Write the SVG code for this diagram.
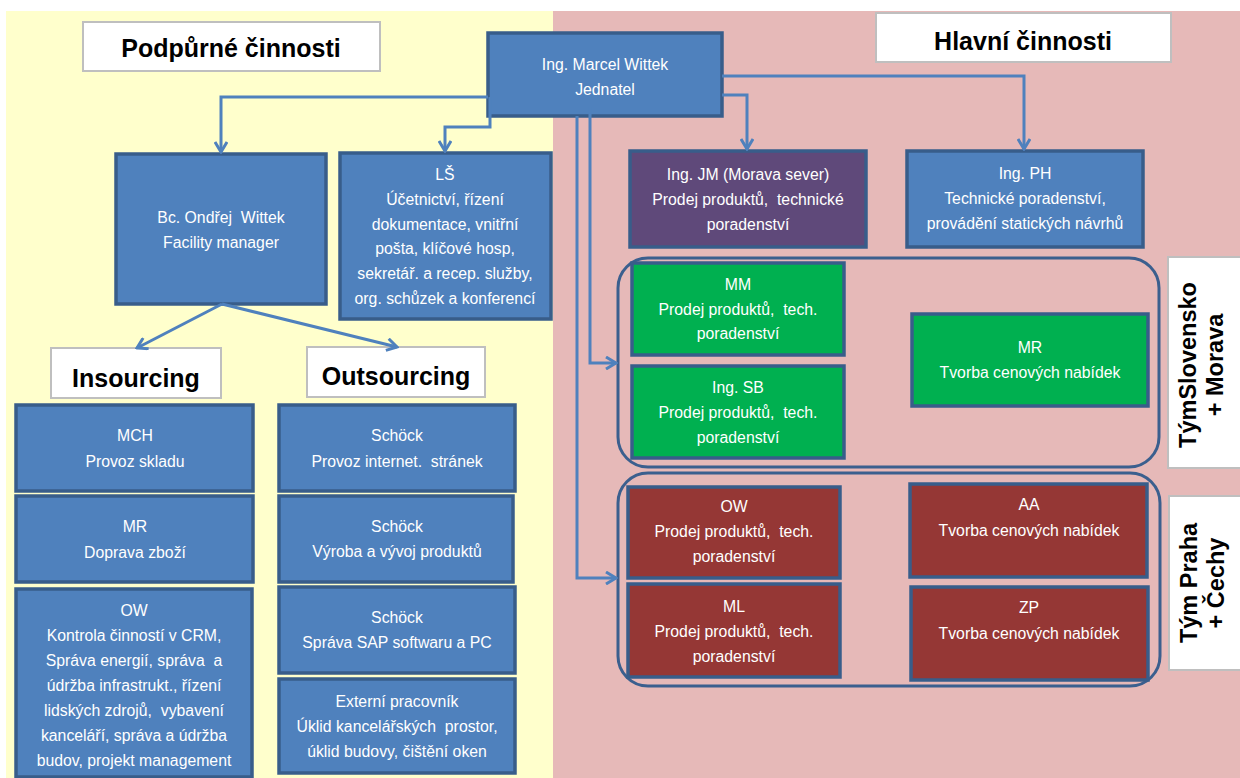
<svg xmlns="http://www.w3.org/2000/svg" width="1240" height="778" viewBox="0 0 1240 778">
<style>
.bl{fill:#4F81BD;stroke:#385D8A;stroke-width:3.5}
.pu{fill:#5F497A;stroke:#385D8A;stroke-width:3.5}
.gr{fill:#00B050;stroke:#385D8A;stroke-width:3.5}
.rd{fill:#953735;stroke:#385D8A;stroke-width:3.5}
.grp{fill:none;stroke:#3B5F8E;stroke-width:3}
.ttl{fill:#FFFFFF;stroke:#BFBFBF;stroke-width:2}
.t{font-family:"Liberation Sans",Arial,sans-serif;font-size:15.8px;fill:#FFFFFF;text-anchor:middle;white-space:pre}
.h{font-family:"Liberation Sans",Arial,sans-serif;font-size:25px;font-weight:bold;fill:#000000;text-anchor:middle}
.v{font-family:"Liberation Sans",Arial,sans-serif;font-size:23.5px;font-weight:bold;fill:#000000;text-anchor:middle}
.c{fill:none;stroke:#4F81BD;stroke-width:3;marker-end:url(#ah)}
</style>
<defs>
<marker id="ah" viewBox="0 0 14 14" refX="12" refY="7" markerWidth="14" markerHeight="14" markerUnits="userSpaceOnUse" orient="auto">
<path d="M2,1 L12,7 L2,13" fill="none" stroke="#4F81BD" stroke-width="3"/>
</marker>
</defs>
<rect x="0" y="0" width="1240" height="778" fill="#FFFFFF"/>
<rect x="6" y="11" width="547" height="767" fill="#FFFFCC"/>
<rect x="553" y="11" width="687" height="767" fill="#E6B9B8"/>

<g id="title-podpurne"><rect class="ttl" x="83" y="22" width="297" height="49"/><text class="h" x="231" y="57">Podpůrné činnosti</text></g>
<g id="title-hlavni"><rect class="ttl" x="876" y="13" width="295" height="49"/><text class="h" x="1023" y="50">Hlavní činnosti</text></g>

<g id="marcel"><rect class="bl" x="488" y="33" width="234" height="83"/><text class="t" x="605" y="70">Ing. Marcel Wittek</text><text class="t" x="605" y="95">Jednatel</text></g>
<g id="ondrej"><rect class="bl" x="116" y="154" width="210" height="150"/><text class="t" x="221" y="223">Bc. Ondřej  Wittek</text><text class="t" x="221" y="248">Facility manager</text></g>
<g id="ls"><rect class="bl" x="340" y="153" width="211" height="166"/>
<text class="t" x="445" y="180">LŠ</text><text class="t" x="445" y="205">Účetnictví, řízení</text><text class="t" x="445" y="230">dokumentace, vnitřní</text><text class="t" x="445" y="254">pošta, klíčové hosp,</text><text class="t" x="445" y="279">sekretář. a recep. služby,</text><text class="t" x="445" y="304">org. schůzek a konferencí</text></g>

<g id="insourcing"><rect class="ttl" x="51" y="348" width="170" height="50"/><text class="h" x="136" y="387">Insourcing</text></g>
<g id="outsourcing"><rect class="ttl" x="307" y="347" width="178" height="50"/><text class="h" x="396" y="385">Outsourcing</text></g>

<g id="mch"><rect class="bl" x="16" y="405" width="237" height="86"/><text class="t" x="135" y="441">MCH</text><text class="t" x="135" y="467">Provoz skladu</text></g>
<g id="mr-doprava"><rect class="bl" x="16" y="496" width="237" height="86"/><text class="t" x="135" y="532">MR</text><text class="t" x="135" y="558">Doprava zboží</text></g>
<g id="ow-facility"><rect class="bl" x="16" y="589" width="236" height="188"/>
<text class="t" x="134" y="616">OW</text><text class="t" x="134" y="641">Kontrola činností v CRM,</text><text class="t" x="134" y="666">Správa energií, správa  a</text><text class="t" x="134" y="691">údržba infrastrukt., řízení</text><text class="t" x="134" y="716">lidských zdrojů,  vybavení</text><text class="t" x="134" y="741">kanceláří, správa a údržba</text><text class="t" x="134" y="766">budov, projekt management</text></g>

<g id="schock-web"><rect class="bl" x="279" y="405" width="236" height="86"/><text class="t" x="397" y="441">Schöck</text><text class="t" x="397" y="467">Provoz internet.  stránek</text></g>
<g id="schock-vyroba"><rect class="bl" x="279" y="496" width="234" height="86"/><text class="t" x="397" y="532">Schöck</text><text class="t" x="397" y="557">Výroba a vývoj produktů</text></g>
<g id="schock-sap"><rect class="bl" x="279" y="587" width="236" height="86"/><text class="t" x="397" y="623">Schöck</text><text class="t" x="397" y="648">Správa SAP softwaru a PC</text></g>
<g id="externi"><rect class="bl" x="279" y="679" width="236" height="94"/><text class="t" x="397" y="707">Externí pracovník</text><text class="t" x="397" y="732">Úklid kancelářských  prostor,</text><text class="t" x="397" y="757">úklid budovy, čištění oken</text></g>

<g id="jm"><rect class="pu" x="630" y="151" width="236" height="96"/><text class="t" x="748" y="180">Ing. JM (Morava sever)</text><text class="t" x="748" y="205">Prodej produktů,  technické</text><text class="t" x="748" y="230">poradenství</text></g>
<g id="ph"><rect class="bl" x="907" y="151" width="236" height="96"/><text class="t" x="1025" y="179">Ing. PH</text><text class="t" x="1025" y="204">Technické poradenství,</text><text class="t" x="1025" y="229">provádění statických návrhů</text></g>

<g id="team-sk-morava">
<rect class="grp" x="618" y="258" width="541" height="209" rx="30"/>
<g id="mm"><rect class="gr" x="632" y="263" width="212" height="92"/><text class="t" x="738" y="290">MM</text><text class="t" x="738" y="315">Prodej produktů,  tech.</text><text class="t" x="738" y="339">poradenství</text></g>
<g id="sb"><rect class="gr" x="632" y="366" width="212" height="92"/><text class="t" x="738" y="393">Ing. SB</text><text class="t" x="738" y="418">Prodej produktů,  tech.</text><text class="t" x="738" y="443">poradenství</text></g>
<g id="mr-nabidky"><rect class="gr" x="912" y="314" width="236" height="92"/><text class="t" x="1030" y="353">MR</text><text class="t" x="1030" y="378">Tvorba cenových nabídek</text></g>
</g>
<g id="label-sk"><rect class="ttl" x="1168" y="257" width="74" height="211"/>
<g transform="translate(1196,365) rotate(-90)"><text class="v" x="0" y="0">TýmSlovensko</text></g>
<g transform="translate(1223,365) rotate(-90)"><text class="v" x="0" y="0">+ Morava</text></g></g>

<g id="team-praha">
<rect class="grp" x="618" y="473" width="542" height="213" rx="30"/>
<g id="ow-sales"><rect class="rd" x="628" y="487" width="212" height="91"/><text class="t" x="734" y="512">OW</text><text class="t" x="734" y="537">Prodej produktů,  tech.</text><text class="t" x="734" y="562">poradenství</text></g>
<g id="ml"><rect class="rd" x="628" y="584" width="212" height="93"/><text class="t" x="734" y="612">ML</text><text class="t" x="734" y="637">Prodej produktů,  tech.</text><text class="t" x="734" y="662">poradenství</text></g>
<g id="aa"><rect class="rd" x="910" y="484" width="237" height="93"/><text class="t" x="1029" y="510">AA</text><text class="t" x="1029" y="536">Tvorba cenových nabídek</text></g>
<g id="zp"><rect class="rd" x="911" y="587" width="237" height="93"/><text class="t" x="1029" y="613">ZP</text><text class="t" x="1029" y="639">Tvorba cenových nabídek</text></g>
</g>
<g id="label-praha"><rect class="ttl" x="1169" y="496" width="73" height="174"/>
<g transform="translate(1197,583) rotate(-90)"><text class="v" x="0" y="0">Tým Praha</text></g>
<g transform="translate(1224,583) rotate(-90)"><text class="v" x="0" y="0">+ Čechy</text></g></g>

<g id="connectors">
<path class="c" d="M488,97 H221 V152"/>
<path class="c" d="M490,97 V127 H445 V151"/>
<path class="c" d="M722,95 H747 V149"/>
<path class="c" d="M722,76 H1024 V149"/>
<path class="c" d="M590,107 V363 H616"/>
<path class="c" d="M577,116 V578 H616"/>
<path class="c" d="M222,304 L137,348"/>
<path class="c" d="M222,304 L397,347"/>
</g>
</svg>
